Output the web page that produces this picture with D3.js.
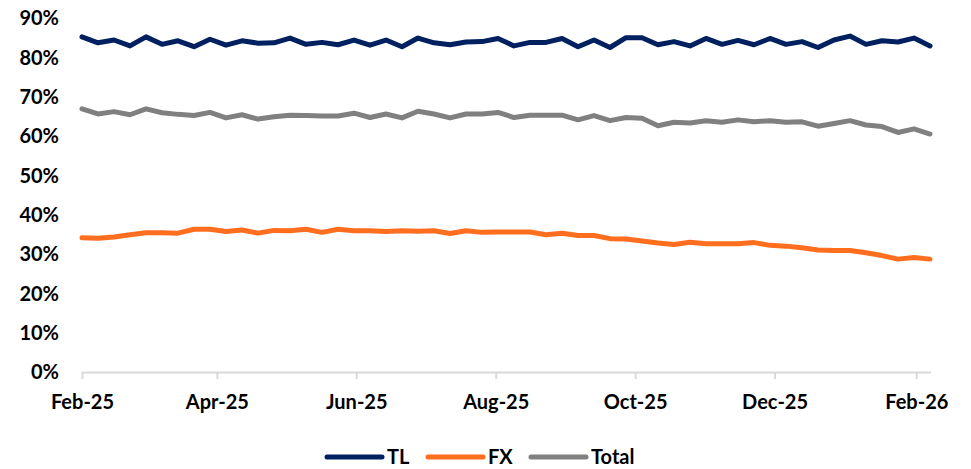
<!DOCTYPE html>
<html>
<head>
<meta charset="utf-8">
<script src="https://cdn.jsdelivr.net/npm/d3@7"></script>
<style>
	html, body { margin: 0; padding: 0; background: #fff; }
	text { font-family: Lato, 'Open Sans', sans-serif; font-weight: 700; fill: #000; }
</style>
</head>
<body>
<div id="graph"></div>
<script>
// weekly dates (Fridays)
const dates = [
	'2025-02-07', '2025-02-14', '2025-02-21', '2025-02-28',
	'2025-03-07', '2025-03-14', '2025-03-21', '2025-03-28',
	'2025-04-04', '2025-04-11', '2025-04-18', '2025-04-25',
	'2025-05-02', '2025-05-09', '2025-05-16', '2025-05-23', '2025-05-30',
	'2025-06-06', '2025-06-13', '2025-06-20', '2025-06-27',
	'2025-07-04', '2025-07-11', '2025-07-18', '2025-07-25',
	'2025-08-01', '2025-08-08', '2025-08-15', '2025-08-22', '2025-08-29',
	'2025-09-05', '2025-09-12', '2025-09-19', '2025-09-26',
	'2025-10-03', '2025-10-10', '2025-10-17', '2025-10-24', '2025-10-31',
	'2025-11-07', '2025-11-14', '2025-11-21', '2025-11-28',
	'2025-12-05', '2025-12-12', '2025-12-19', '2025-12-26',
	'2026-01-02', '2026-01-09', '2026-01-16', '2026-01-23', '2026-01-30',
	'2026-02-06', '2026-02-13'
];

const tl = [
	85.2, 83.7, 84.4, 82.9, 85.2, 83.3, 84.2, 82.7, 84.6, 83.1,
	84.2, 83.6, 83.7, 84.9, 83.3, 83.8, 83.2, 84.4, 83.1, 84.4,
	82.7, 84.9, 83.7, 83.2, 83.9, 84.0, 84.8, 82.9, 83.8, 83.8,
	84.8, 82.7, 84.4, 82.5, 85.0, 85.0, 83.2, 84.0, 82.9, 84.8,
	83.3, 84.3, 83.2, 84.8, 83.3, 84.0, 82.5, 84.4, 85.4, 83.3,
	84.2, 83.9, 84.9, 82.9
];

const fx = [
	34.1, 34.0, 34.3, 34.9, 35.4, 35.4, 35.3, 36.3, 36.3, 35.7,
	36.1, 35.3, 36.0, 35.9, 36.3, 35.5, 36.3, 35.9, 35.9, 35.7,
	35.9, 35.8, 35.9, 35.2, 35.9, 35.5, 35.6, 35.6, 35.6, 34.9,
	35.3, 34.7, 34.7, 33.9, 33.8, 33.3, 32.8, 32.4, 33.0, 32.6,
	32.6, 32.6, 32.9, 32.2, 32.0, 31.6, 31.0, 30.9, 30.9, 30.3,
	29.6, 28.7, 29.1, 28.7
];

const total = [
	66.9, 65.6, 66.2, 65.4, 66.9, 65.9, 65.5, 65.2, 66.0, 64.6,
	65.4, 64.3, 64.9, 65.3, 65.2, 65.1, 65.1, 65.8, 64.7, 65.6,
	64.6, 66.3, 65.6, 64.6, 65.6, 65.6, 66.0, 64.7, 65.3, 65.3,
	65.3, 64.1, 65.2, 63.9, 64.7, 64.5, 62.6, 63.5, 63.3, 63.9,
	63.5, 64.1, 63.6, 63.9, 63.5, 63.6, 62.5, 63.2, 63.9, 62.8,
	62.4, 60.9, 61.8, 60.5
];

const tickDates = ['2025-02-07', '2025-04-07', '2025-06-07', '2025-08-07', '2025-10-07', '2025-12-07', '2026-02-07'];
const tickLabels = ['Feb-25', 'Apr-25', 'Jun-25', 'Aug-25', 'Oct-25', 'Dec-25', 'Feb-26'];
const yTicks = [0, 10, 20, 30, 40, 50, 60, 70, 80, 90];

const series = [
	{ label: 'TL', values: tl, color: '#002060' },
	{ label: 'FX', values: fx, color: '#FF6D1F' },
	{ label: 'Total', values: total, color: '#808080' }
];

const width = 971;
const height = 469;
const parse = d3.timeParse('%Y-%m-%d');
const days = dates.map(parse);

const xScale = d3.scaleTime()
	.domain(d3.extent(days))
	.range([82, 930]);

const yScale = d3.scaleLinear()
	.domain([0, 90])
	.range([372, 18]);

const svg = d3.select('#graph')
	.append('svg')
	.attr('width', width)
	.attr('height', height);

// y labels, no axis line
svg.append('g')
	.selectAll('text')
	.data(yTicks)
	.enter()
	.append('text')
	.attr('x', 59)
	.attr('y', d => yScale(d))
	.attr('dy', '0.36em')
	.style('text-anchor', 'end')
	.style('font-size', '20px')
	.text(d => d + '%');

// x axis
const xAxis = d3.axisBottom(xScale)
	.tickValues(tickDates.map(parse))
	.tickSize(7)
	.tickSizeOuter(0)
	.tickPadding(16)
	.tickFormat((d, i) => tickLabels[i]);

const gx = svg.append('g')
	.attr('transform', `translate(0, ${yScale(0)})`)
	.call(xAxis);

gx.select('.domain')
	.attr('stroke', '#D9D9D9')
	.attr('stroke-width', 2)
	.attr('d', `M81.5,0.5H931`);
gx.selectAll('.tick line')
	.attr('stroke', '#D9D9D9')
	.attr('stroke-width', 2);
gx.selectAll('.tick text')
	.style('font-size', '20px')
	.style('font-family', 'Lato, sans-serif')
	.style('font-weight', 700)
	.attr('fill', '#000');

const line = d3.line()
	.x((d, i) => xScale(days[i]))
	.y(d => yScale(d));

svg.selectAll('path.series')
	.data(series)
	.enter()
	.append('path')
	.attr('class', 'series')
	.attr('fill', 'none')
	.attr('stroke', d => d.color)
	.attr('stroke-width', 5)
	.attr('stroke-linejoin', 'round')
	.attr('stroke-linecap', 'round')
	.attr('d', d => line(d.values));

// legend
const legendX = [327, 428, 531];
const legend = svg.append('g')
	.selectAll('g')
	.data(series)
	.enter()
	.append('g')
	.attr('transform', (d, i) => `translate(${legendX[i]}, 457)`);

legend.append('line')
	.attr('x1', 0)
	.attr('x2', 55)
	.attr('stroke', d => d.color)
	.attr('stroke-width', 5)
	.attr('stroke-linecap', 'round');

legend.append('text')
	.attr('x', 60)
	.attr('dy', '0.36em')
	.style('font-size', '20px')
	.text(d => d.label);
</script>
</body>
</html>
